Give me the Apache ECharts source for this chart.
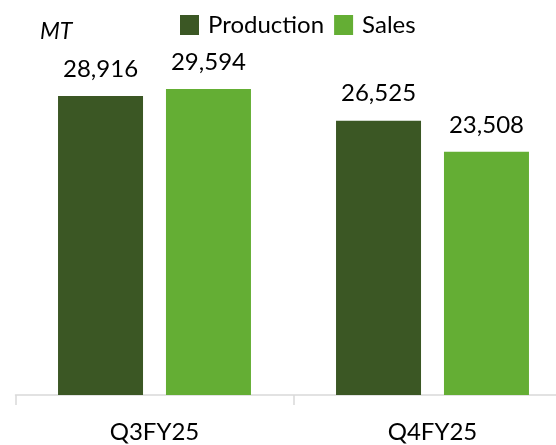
<!DOCTYPE html>
<html>
<head>
<meta charset="utf-8">
<script src="https://cdn.jsdelivr.net/npm/echarts@6/dist/echarts.min.js"></script>
<style>
  html, body { margin: 0; padding: 0; background: #fff; }
  #chart { width: 556px; height: 445px; }
</style>
</head>
<body>
<div id="chart"></div>
<script>
var categories = ['Q3FY25', 'Q4FY25'];
var production = [28916, 26525];
var sales = [29594, 23508];

var myChart = echarts.init(document.getElementById('chart'));
var font = 'Lato, "Open Sans", sans-serif';

function valueLabel() {
    return {
        show: true,
        position: 'top',
        distance: 15,
        color: '#000',
        fontSize: 24,
        fontFamily: font,
        formatter: function (p) { return p.value.toLocaleString('en-US'); }
    };
}

var option = {
    backgroundColor: '#fff',
    animation: false,
    title: {
        text: 'MT',
        left: 35,
        top: 15,
        textStyle: { fontSize: 23, fontStyle: 'italic', fontWeight: 'normal', color: '#000', fontFamily: font }
    },
    legend: {
        left: 175,
        top: 8,
        itemWidth: 19,
        itemHeight: 20,
        itemGap: 10,
        icon: 'rect',
        textStyle: { fontSize: 24, color: '#000', fontFamily: font, padding: [0, 0, 0, 4] },
        data: ['Production', 'Sales']
    },
    grid: { left: 15.5, width: 556, top: 33, bottom: 50, outerBoundsMode: 'none' },
    xAxis: {
        type: 'category',
        data: categories,
        axisLine: { lineStyle: { color: '#d9d9d9', width: 1.5 } },
        axisTick: { show: true, length: 10, lineStyle: { color: '#d9d9d9', width: 1.5 } },
        axisLabel: { color: '#000', fontSize: 24, fontFamily: font, margin: 25 }
    },
    yAxis: {
        type: 'value',
        min: 0,
        max: 35000,
        show: false,
        splitLine: { show: false }
    },
    series: [
        {
            name: 'Production',
            type: 'bar',
            data: production,
            barWidth: 85,
            barGap: '27%',
            itemStyle: { color: '#3b5724' },
            label: valueLabel()
        },
        {
            name: 'Sales',
            type: 'bar',
            data: sales,
            barWidth: 85,
            itemStyle: { color: '#64ae34' },
            label: valueLabel()
        }
    ]
};

myChart.setOption(option);
</script>
</body>
</html>
